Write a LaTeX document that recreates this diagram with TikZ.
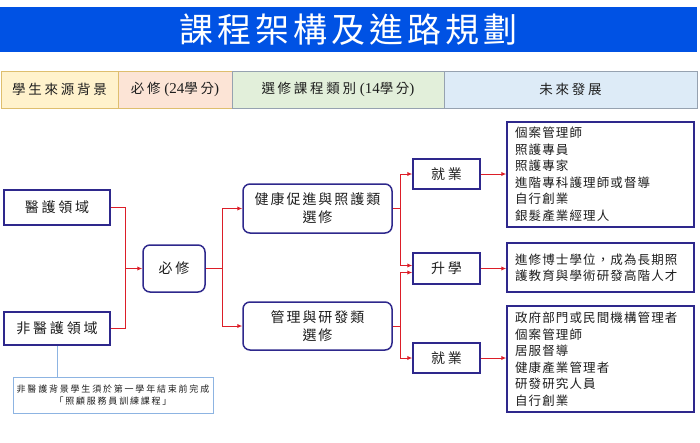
\documentclass[tikz,border=0pt]{standalone}
\usepackage{fontspec}
\newfontfamily\cjk{Noto Sans CJK TC}
\newfontfamily\cjkT[LetterSpace=12]{Noto Sans CJK TC}
\newfontfamily\cjkH[LetterSpace=20]{Noto Sans CJK TC}
\newfontfamily\cjkB[LetterSpace=14]{Noto Sans CJK TC}
\newfontfamily\cjkL[LetterSpace=9]{Noto Sans CJK TC}
\newfontfamily\lat{Liberation Serif}
\usetikzlibrary{arrows.meta}
\definecolor{titleblue}{RGB}{0,82,228}
\definecolor{boxc}{RGB}{46,40,140}
\definecolor{arrowred}{RGB}{220,30,40}
\definecolor{hyel}{RGB}{255,242,204}
\definecolor{hpea}{RGB}{252,228,214}
\definecolor{hgre}{RGB}{226,239,218}
\definecolor{hblu}{RGB}{221,235,247}
\definecolor{bgold}{RGB}{222,190,110}
\definecolor{bgrey}{RGB}{150,162,176}
\definecolor{notec}{RGB}{141,180,226}
\definecolor{txt}{RGB}{30,30,30}
\tikzset{
  hcell/.style={draw=#1, line width=1pt, minimum height=37pt, inner sep=0pt,
    font=\fontsize{13.5}{16}\selectfont\cjkH, text=txt},
  boxn/.style={draw=boxc, line width=1.5pt, fill=white, inner sep=0pt, align=center,
    font=\fontsize{14}{18}\selectfont\cjkB, text=txt},
  rboxn/.style={boxn, rounded corners=7pt},
  listn/.style={draw=boxc, line width=1.5pt, fill=white, align=left, text width=171pt,
    inner xsep=8pt, inner ysep=0pt, font=\fontsize{12.5}{16.5}\selectfont\cjkL, text=txt},
  conn/.style={draw=arrowred, line width=1pt},
  arr/.style={conn, -{Latex[length=5pt,width=4.5pt]}},
}
\begin{document}
\begin{tikzpicture}[x=1pt,y=-1pt]
\useasboundingbox (0,0) rectangle (700,442);
% title
\node[fill=titleblue, minimum width=697pt, minimum height=45pt, inner sep=0pt,
  text=white, font=\fontsize{34}{40}\selectfont\cjkT] (title) at (348.5,29.5) {課程架構及進路規劃};
% header
\node[hcell=bgold, fill=hyel, minimum width=117pt] (h1) at (59.5,89.5) {學生來源背景};
\node[hcell=bgold, fill=hpea, minimum width=114pt] (h2) at (175,89.5) {必修{\lat\fontsize{15}{16}\selectfont\ (24}學分{\lat\fontsize{15}{16}\selectfont )}};
\node[hcell=bgrey, fill=hgre, minimum width=212pt] (h3) at (338,89.5) {選修課程類別{\lat\fontsize{15}{16}\selectfont\ (14}學分{\lat\fontsize{15}{16}\selectfont )}};
\node[hcell=bgrey, fill=hblu, minimum width=253pt] (h4) at (570.5,89.5) {未來發展};
% boxes
\node[boxn, minimum width=106pt, minimum height=35pt, font=\fontsize{14}{18}\selectfont\cjkH] (med) at (57,207.5) {醫護領域};
\node[boxn, minimum width=106pt, minimum height=33pt, font=\fontsize{14}{18}\selectfont\cjkH] (nonmed) at (57,328.5) {非醫護領域};
\node[rboxn, minimum width=62pt, minimum height=47pt, font=\fontsize{14}{18}\selectfont\cjkH] (req) at (174,268.5) {必修};
\node[rboxn, minimum width=149pt, minimum height=49pt] (health) at (317.5,208.5) {健康促進與照護類\\選修};
\node[rboxn, minimum width=149pt, minimum height=48pt] (mgmt) at (317.5,326) {管理與研發類\\選修};
\node[boxn, minimum width=67pt, minimum height=30pt, font=\fontsize{14}{18}\selectfont\cjkH] (job1) at (446.5,174) {就業};
\node[boxn, minimum width=67pt, minimum height=31pt, font=\fontsize{14}{18}\selectfont\cjkH] (adv) at (446.5,268.5) {升學};
\node[boxn, minimum width=67pt, minimum height=30pt, font=\fontsize{14}{18}\selectfont\cjkH] (job2) at (446.5,358) {就業};
\node[listn, minimum height=105pt] (list1) at (600.5,174.5) {個案管理師\\照護專員\\照護專家\\進階專科護理師或督導\\自行創業\\銀髮產業經理人};
\node[listn, minimum height=49pt] (list2) at (600.5,267.5) {進修博士學位，成為長期照\\護教育與學術研發高階人才};
\node[listn, minimum height=106pt] (list3) at (600.5,359) {政府部門或民間機構管理者\\個案管理師\\居服督導\\健康產業管理者\\研發研究人員\\自行創業};
\node[draw=notec, line width=1pt, fill=white, minimum width=200pt, minimum height=36pt, inner sep=0pt,
  align=center, font=\fontsize{9}{12}\selectfont\cjkH, text=txt] (note) at (113,395) {非醫護背景學生須於第一學年結束前完成\\「照顧服務員訓練課程」};
% junctions
\coordinate (j1) at (125,268.5);
\coordinate (j2) at (222,268.5);
\coordinate (j3) at (400,208.5);
\coordinate (j4) at (400,326);
% connectors
\draw[conn] (med.east) -| (j1);
\draw[conn] (nonmed.east) -| (j1);
\draw[arr] (j1) -- (req.west);
\draw[conn] (req.east) -- (j2);
\draw[arr] (j2) |- (health.west);
\draw[arr] (j2) |- (mgmt.west);
\draw[conn] (health.east) -- (j3);
\draw[arr] (j3) |- (job1.west);
\draw[arr] (j3) |- ([yshift=3pt]adv.west);
\draw[conn] (mgmt.east) -- (j4);
\draw[arr] (j4) |- ([yshift=-4pt]adv.west);
\draw[arr] (j4) |- (job2.west);
\draw[arr] (job1.east) -- (job1.east -| list1.west);
\draw[arr] (adv.east) -- (adv.east -| list2.west);
\draw[arr] (job2.east) -- (job2.east -| list3.west);
\draw[draw=notec, line width=1pt] (nonmed.south) -- (nonmed.south |- note.north);
\end{tikzpicture}
\end{document}
